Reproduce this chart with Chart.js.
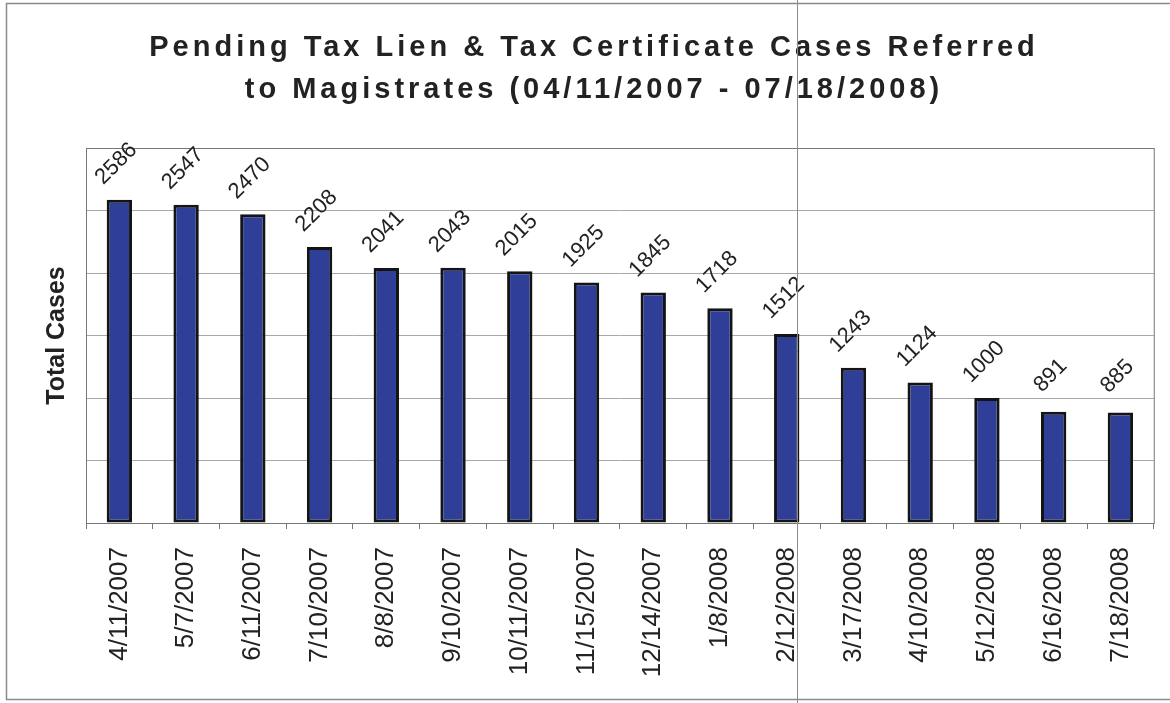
<!DOCTYPE html>
<html>
<head>
<meta charset="utf-8">
<script src="https://cdn.jsdelivr.net/npm/chart.js@4/dist/chart.umd.min.js"></script>
<style>
  html, body { margin: 0; padding: 0; background: #fff; }
  #wrap { width: 1170px; height: 703px; position: relative; }
</style>
</head>
<body>
<div id="wrap"><canvas id="casesChart"></canvas></div>
<script>
// dates the cases were counted
const dates = ['4/11/2007', '5/7/2007', '6/11/2007', '7/10/2007', '8/8/2007', '9/10/2007',
  '10/11/2007', '11/15/2007', '12/14/2007', '1/8/2008', '2/12/2008', '3/17/2008',
  '4/10/2008', '5/12/2008', '6/16/2008', '7/18/2008'];
// total pending cases
const totalCases = [2586, 2547, 2470, 2208, 2041, 2043, 2015, 1925, 1845, 1718, 1512, 1243, 1124, 1000, 891, 885];
const titleLines = ['Pending Tax Lien & Tax Certificate Cases Referred', 'to Magistrates (04/11/2007 - 07/18/2008)'];
const yMax = 3000;
const yStep = 500;

const FONT = 'Arial, "Liberation Sans", sans-serif';

// title, frame, plot border and value labels
const decor = {
  id: 'decor',
  beforeDraw(chart) {
    const ctx = chart.ctx;
    ctx.save();
    ctx.fillStyle = '#fff';
    ctx.fillRect(0, 0, chart.width, chart.height);
    ctx.strokeStyle = '#8a8a8a';
    ctx.lineWidth = 1.5;
    ctx.strokeRect(6.5, 3.5, 1175, 696);
    ctx.restore();
  },
  afterDraw(chart) {
    const ctx = chart.ctx;
    const area = chart.chartArea;
    ctx.save();
    // plot border
    ctx.strokeStyle = '#777';
    ctx.lineWidth = 1;
    ctx.strokeRect(area.left + 0.5, area.top + 0.5, area.right - area.left, area.bottom - area.top);

    // title
    ctx.fillStyle = '#222';
    ctx.font = 'bold 29px ' + FONT;
    ctx.letterSpacing = '4px';
    ctx.textAlign = 'center';
    ctx.textBaseline = 'alphabetic';
    ctx.fillText(titleLines[0], 594, 56);
    ctx.fillText(titleLines[1], 594, 98);
    ctx.letterSpacing = '0px';

    // value labels, tilted
    ctx.font = '22px ' + FONT;
    ctx.textBaseline = 'middle';
    const meta = chart.getDatasetMeta(0);
    meta.data.forEach((bar, i) => {
      ctx.save();
      ctx.translate(bar.x - 3, bar.y - 36);
      ctx.rotate(-Math.PI / 4);
      ctx.fillText(String(totalCases[i]), 0, 0);
      ctx.restore();
    });

    // scanner line
    ctx.strokeStyle = '#8c8c8c';
    ctx.lineWidth = 1;
    ctx.beginPath();
    ctx.moveTo(797.5, 0);
    ctx.lineTo(797.5, chart.height);
    ctx.stroke();
    ctx.restore();
  }
};

const chartCtx = document.getElementById('casesChart').getContext('2d');
const casesChart = new Chart(chartCtx, {
  type: 'bar',
  data: {
    labels: dates,
    datasets: [{
      data: totalCases,
      backgroundColor: '#2f3f98',
      borderColor: '#141414',
      borderWidth: 3,
      borderSkipped: false,
      barPercentage: 0.38,
      categoryPercentage: 1.0
    }]
  },
  options: {
    responsive: true,
    maintainAspectRatio: false,
    animation: false,
    layout: { padding: { top: 148, right: 13, left: 0, bottom: 0 } },
    plugins: {
      legend: { display: false },
      title: { display: false },
      tooltip: { enabled: false }
    },
    scales: {
      x: {
        afterFit(scale) { scale.height = 180; },
        grid: {
          display: true,
          drawOnChartArea: false,
          drawTicks: true,
          tickLength: 6,
          offset: true,
          color: '#777'
        },
        border: { display: true, color: '#777' },
        ticks: {
          minRotation: 90,
          maxRotation: 90,
          autoSkip: false,
          padding: 18,
          color: '#222',
          font: { family: FONT, size: 26 }
        }
      },
      y: {
        min: 0,
        max: yMax,
        afterFit(scale) { scale.width = 86; },
        grid: { color: '#a8a8a8', drawTicks: false },
        border: { display: true, color: '#777' },
        ticks: { display: false, stepSize: yStep },
        title: {
          display: true,
          text: 'Total Cases',
          color: '#222',
          font: { family: FONT, size: 25, weight: 'bold' },
          padding: { top: 42, bottom: 0 }
        }
      }
    }
  },
  plugins: [decor]
});
</script>
</body>
</html>
